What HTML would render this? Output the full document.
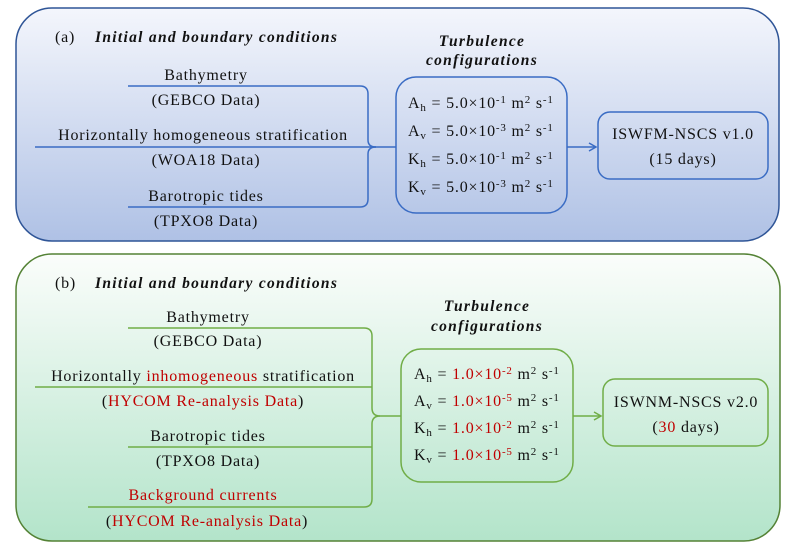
<!DOCTYPE html>
<html><head><meta charset="utf-8"><style>
body{margin:0;background:#fff}
svg{display:block}
text{font-family:"Liberation Serif",serif;font-size:16px;fill:#111;letter-spacing:0.8px}
.t{font-style:italic;font-weight:bold;letter-spacing:1.3px;font-size:15.5px}
.r{fill:#c00000}
</style></head><body>
<svg width="800" height="549" viewBox="0 0 800 549" xmlns="http://www.w3.org/2000/svg">
<defs>
<linearGradient id="ga" x1="0" y1="0" x2="0" y2="1"><stop offset="0" stop-color="#f4f6fc"/><stop offset="1" stop-color="#afc1e5"/></linearGradient>
<linearGradient id="gb" x1="0" y1="0" x2="0" y2="1"><stop offset="0" stop-color="#fbfdfb"/><stop offset="1" stop-color="#b3e4ca"/></linearGradient>
<marker id="ab" markerWidth="10" markerHeight="10" refX="8" refY="5" orient="auto" markerUnits="userSpaceOnUse"><path d="M1,1 L8,5 L1,9" fill="none" stroke="#3a6cc4" stroke-width="1.5"/></marker>
<marker id="ag" markerWidth="10" markerHeight="10" refX="8" refY="5" orient="auto" markerUnits="userSpaceOnUse"><path d="M1,1 L8,5 L1,9" fill="none" stroke="#70ad47" stroke-width="1.5"/></marker>
</defs>
<!-- panel a -->
<rect x="16" y="8" width="763" height="233" rx="36" fill="url(#ga)" stroke="#2f5597" stroke-width="1.5"/>
<text x="55" y="42">(a)</text>
<text class="t" x="95" y="42">Initial and boundary conditions</text>
<g fill="none" stroke="#3a6cc4" stroke-width="1.5">
<path d="M128,86 H360 Q368,86 368,94 V140 Q368,147 376,147"/>
<path d="M128,207 H360 Q368,207 368,199 V154 Q368,147 376,147"/>
<path d="M35,147 H396"/>
<rect x="396" y="77" width="171" height="136" rx="20" stroke="#3a6cc4"/>
<path d="M567,147 H596" marker-end="url(#ab)"/>
<rect x="598" y="112" width="170" height="67" rx="12"/>
</g>
<text x="206" y="80" text-anchor="middle">Bathymetry</text>
<text x="206" y="105" text-anchor="middle">(GEBCO Data)</text>
<text x="203" y="140" text-anchor="middle">Horizontally homogeneous stratification</text>
<text x="206" y="165" text-anchor="middle">(WOA18 Data)</text>
<text x="206" y="201" text-anchor="middle">Barotropic tides</text>
<text x="206" y="226" text-anchor="middle">(TPXO8 Data)</text>
<text class="t" x="482" y="46" text-anchor="middle">Turbulence</text>
<text class="t" x="482" y="65" text-anchor="middle">configurations</text>
<text x="408" y="108">A<tspan font-size="11" dy="3">h</tspan><tspan dy="-3"> = 5.0×10</tspan><tspan font-size="11" dy="-5">-1</tspan><tspan dy="5"> m</tspan><tspan font-size="11" dy="-5">2</tspan><tspan dy="5"> s</tspan><tspan font-size="11" dy="-5">-1</tspan></text>
<text x="408" y="136">A<tspan font-size="11" dy="3">v</tspan><tspan dy="-3"> = 5.0×10</tspan><tspan font-size="11" dy="-5">-3</tspan><tspan dy="5"> m</tspan><tspan font-size="11" dy="-5">2</tspan><tspan dy="5"> s</tspan><tspan font-size="11" dy="-5">-1</tspan></text>
<text x="408" y="164">K<tspan font-size="11" dy="3">h</tspan><tspan dy="-3"> = 5.0×10</tspan><tspan font-size="11" dy="-5">-1</tspan><tspan dy="5"> m</tspan><tspan font-size="11" dy="-5">2</tspan><tspan dy="5"> s</tspan><tspan font-size="11" dy="-5">-1</tspan></text>
<text x="408" y="192">K<tspan font-size="11" dy="3">v</tspan><tspan dy="-3"> = 5.0×10</tspan><tspan font-size="11" dy="-5">-3</tspan><tspan dy="5"> m</tspan><tspan font-size="11" dy="-5">2</tspan><tspan dy="5"> s</tspan><tspan font-size="11" dy="-5">-1</tspan></text>
<text x="683" y="139" text-anchor="middle">ISWFM-NSCS v1.0</text>
<text x="683" y="164" text-anchor="middle">(15 days)</text>
<!-- panel b -->
<rect x="16" y="254" width="764" height="287" rx="36" fill="url(#gb)" stroke="#548235" stroke-width="1.5"/>
<text x="55" y="288">(b)</text>
<text class="t" x="95" y="288">Initial and boundary conditions</text>
<g fill="none" stroke="#70ad47" stroke-width="1.5">
<path d="M128,328 H364 Q372,328 372,336 V408 Q372,416 380,416"/>
<path d="M35,387 H372"/>
<path d="M128,447 H372"/>
<path d="M88,507 H364 Q372,507 372,499 V424 Q372,416 380,416 H401"/>
<rect x="401" y="349" width="172" height="133" rx="20"/>
<path d="M573,416 H601" marker-end="url(#ag)"/>
<rect x="603" y="379" width="165" height="67" rx="12"/>
</g>
<text x="208" y="322" text-anchor="middle">Bathymetry</text>
<text x="208" y="346" text-anchor="middle">(GEBCO Data)</text>
<text x="203" y="381" text-anchor="middle">Horizontally <tspan class="r">inhomogeneous</tspan> stratification</text>
<text x="203" y="406" text-anchor="middle">(<tspan class="r">HYCOM Re-analysis Data</tspan>)</text>
<text x="208" y="441" text-anchor="middle">Barotropic tides</text>
<text x="208" y="466" text-anchor="middle">(TPXO8 Data)</text>
<text x="203" y="500" text-anchor="middle" class="r">Background currents</text>
<text x="207" y="526" text-anchor="middle">(<tspan class="r">HYCOM Re-analysis Data</tspan>)</text>
<text class="t" x="487" y="311" text-anchor="middle">Turbulence</text>
<text class="t" x="487" y="331" text-anchor="middle">configurations</text>
<text x="414" y="379">A<tspan font-size="11" dy="3">h</tspan><tspan dy="-3"> = </tspan><tspan class="r">1.0×10</tspan><tspan class="r" font-size="11" dy="-5">-2</tspan><tspan dy="5"> m</tspan><tspan font-size="11" dy="-5">2</tspan><tspan dy="5"> s</tspan><tspan font-size="11" dy="-5">-1</tspan></text>
<text x="414" y="406">A<tspan font-size="11" dy="3">v</tspan><tspan dy="-3"> = </tspan><tspan class="r">1.0×10</tspan><tspan class="r" font-size="11" dy="-5">-5</tspan><tspan dy="5"> m</tspan><tspan font-size="11" dy="-5">2</tspan><tspan dy="5"> s</tspan><tspan font-size="11" dy="-5">-1</tspan></text>
<text x="414" y="433">K<tspan font-size="11" dy="3">h</tspan><tspan dy="-3"> = </tspan><tspan class="r">1.0×10</tspan><tspan class="r" font-size="11" dy="-5">-2</tspan><tspan dy="5"> m</tspan><tspan font-size="11" dy="-5">2</tspan><tspan dy="5"> s</tspan><tspan font-size="11" dy="-5">-1</tspan></text>
<text x="414" y="460">K<tspan font-size="11" dy="3">v</tspan><tspan dy="-3"> = </tspan><tspan class="r">1.0×10</tspan><tspan class="r" font-size="11" dy="-5">-5</tspan><tspan dy="5"> m</tspan><tspan font-size="11" dy="-5">2</tspan><tspan dy="5"> s</tspan><tspan font-size="11" dy="-5">-1</tspan></text>
<text x="686" y="407" text-anchor="middle">ISWNM-NSCS v2.0</text>
<text x="686" y="432" text-anchor="middle">(<tspan class="r">30</tspan> days)</text>
</svg>
</body></html>
